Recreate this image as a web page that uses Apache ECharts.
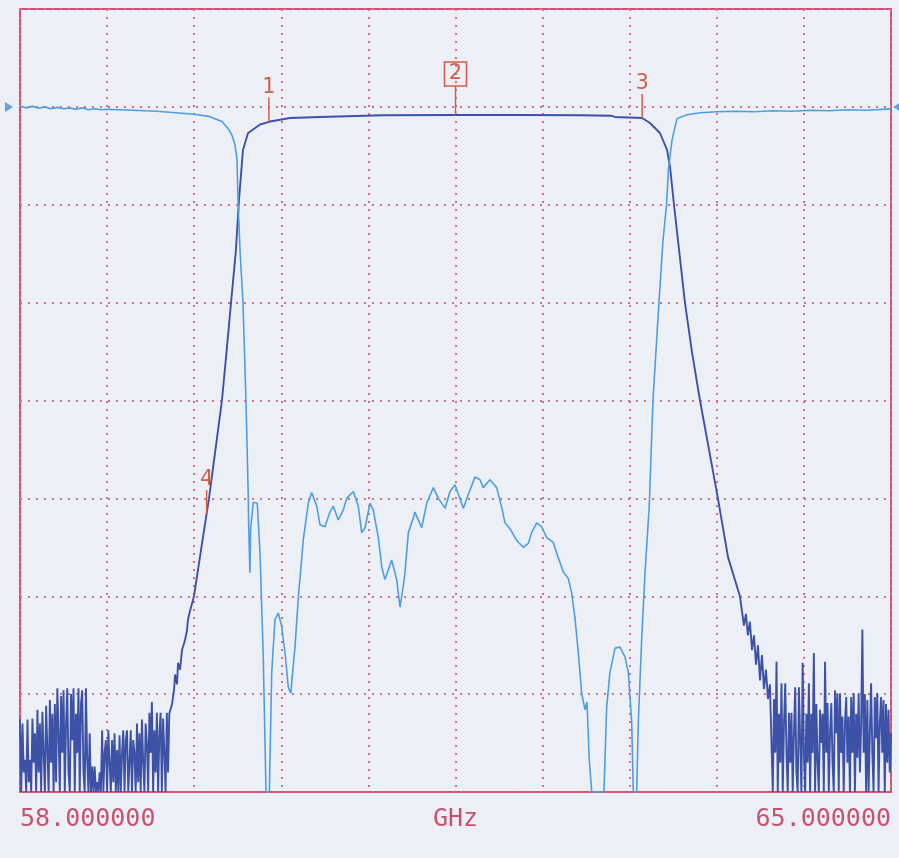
<!DOCTYPE html>
<html>
<head>
<meta charset="utf-8">
<script src="https://cdn.jsdelivr.net/npm/echarts@6/dist/echarts.min.js"></script>
<style>
html,body{margin:0;padding:0;background:#edeff7;}
#chart{width:899px;height:858px;}
</style>
</head>
<body>
<div id="chart"></div>
<script>
// ---- axis ----
const freqMin = 58.0, freqMax = 65.0, freqStep = 0.7;
const dbMin = -70, dbMax = 10, dbStep = 10;
const axisUnit = 'GHz';

// ---- S21 (dark trace): left noise floor, sweep 58.00 GHz step 0.01 GHz ----
const s21NoiseLeftStart = 58.00, s21NoiseStep = 0.01;
const s21NoiseLeft = [
 -62.6, -70, -63, -68, -66.7, -70, -62.6, -69, -66.7, -70,
 -62.5, -67, -64, -70, -61.6, -68, -63, -70, -61.8, -66,
 -70, -61.2, -65.7, -70, -60.6, -67, -62, -70, -61, -69,
 -59.4, -64, -70, -60.2, -66, -59.6, -70, -63, -59.4, -68,
 -70, -60, -64.7, -59.4, -70, -62, -66, -59.4, -70, -61,
 -59.6, -68, -70, -59.4, -66.7, -70, -64, -70, -67.4, -70,
 -67.4, -70, -69, -70, -68, -70, -63.7, -70, -66, -64.7,
 -70, -63.7, -67, -70, -64.7, -69, -64, -70, -65.7, -70,
 -64.2, -70, -66, -63.7, -70, -64.7, -63.7, -70, -67, -63.7,
 -70, -64.7, -66, -70, -63, -69, -64, -70, -62.6, -67,
 -70, -63, -65, -70, -61.9, -66, -60.8, -70, -63.7, -68,
 -61.9, -70, -64, -61.9, -70, -62.5, -66, -70, -61.9, -68,
 -62
];
// ---- S21 skirts and passband ----
const s21Freq = [
 59.222, 59.238, 59.246, 59.262, 59.270, 59.286, 59.302, 59.326, 59.342, 59.350,
 59.366, 59.390, 59.398, 59.458, 59.519, 59.571, 59.623, 59.660, 59.696, 59.733,
 59.760, 59.792, 59.832, 59.929, 60.009, 60.170, 60.410, 60.917, 61.500, 62.000,
 62.500, 62.750, 62.780, 63.000, 63.063, 63.143, 63.200, 63.224, 63.256, 63.300,
 63.344, 63.400, 63.465, 63.537, 63.609, 63.690, 63.786, 63.802, 63.818, 63.834,
 63.850, 63.866, 63.883, 63.899, 63.915, 63.931, 63.947, 63.963, 63.979, 63.995,
 64.011, 64.027
];
const s21Val = [
 -61, -59.6, -58, -59, -56.8, -57.5, -55.5, -54.5, -53.5, -52.4,
 -51.5, -50.4, -50, -45, -40, -35, -30, -25, -20, -15,
 -9.5, -4.4, -2.7, -1.8, -1.5, -1.14, -1.03, -0.85, -0.83, -0.83,
 -0.85, -0.9, -1.03, -1.14, -1.65, -2.67, -4.4, -6.1, -10, -15,
 -20, -25, -30, -35, -40, -46, -50, -51.5, -53, -51.8,
 -54, -52.6, -55.5, -54, -57, -55, -58.6, -56, -59.5, -57.5,
 -60.5, -59
];
// ---- S21 right noise floor, sweep 64.05 GHz step 0.01 GHz ----
const s21NoiseRightStart = 64.05;
const s21NoiseRight = [
 -70, -60.5, -66, -56.7, -70, -62, -67, -58.9, -70, -63,
 -58.9, -66, -70, -61.9, -67, -61.9, -70, -64, -59.3, -68,
 -70, -59.3, -64.7, -70, -56.8, -66, -70, -62, -67, -58.9,
 -70, -62, -66, -55.8, -70, -61, -67, -70, -61.6, -65,
 -62, -70, -56.7, -66, -60.9, -70, -64, -60.9, -67, -70,
 -59.6, -64, -60, -70, -59.9, -66, -62.3, -70, -63, -60.3,
 -67, -62.3, -70, -60.3, -66, -59.9, -70, -62, -66.5, -59.9,
 -68, -63, -53.4, -66, -60, -70, -60.6, -70, -64, -58.9,
 -66, -70, -60.3, -64.5, -59.9, -70, -63, -60.3, -66, -60.6,
 -70, -61, -67, -61.6, -68, -64
];

// ---- S11 (light trace) ----
const s11Freq = [
 58.00, 58.05, 58.10, 58.15, 58.20, 58.25, 58.30, 58.35, 58.40, 58.45,
 58.50, 58.55, 58.60, 58.65, 58.70, 58.80, 58.90, 59.00, 59.10, 59.20,
 59.30, 59.40, 59.527, 59.623, 59.672, 59.704, 59.728, 59.744, 59.752, 59.768,
 59.792, 59.816, 59.835, 59.837, 59.848, 59.854, 59.875, 59.907, 59.929, 59.955,
 59.977, 60.004, 60.023, 60.049, 60.076, 60.103, 60.130, 60.156, 60.176, 60.210,
 60.237, 60.277, 60.317, 60.344, 60.385, 60.411, 60.451, 60.491, 60.518, 60.558,
 60.598, 60.626, 60.679, 60.719, 60.746, 60.773, 60.813, 60.839, 60.880, 60.907,
 60.933, 60.987, 61.027, 61.054, 61.080, 61.094, 61.121, 61.161, 61.174, 61.228,
 61.269, 61.322, 61.362, 61.416, 61.456, 61.496, 61.563, 61.603, 61.657, 61.697,
 61.723, 61.777, 61.831, 61.871, 61.898, 61.938, 61.992, 62.045, 62.085, 62.112,
 62.153, 62.193, 62.233, 62.286, 62.313, 62.366, 62.407, 62.434, 62.460, 62.487,
 62.514, 62.541, 62.557, 62.565, 62.575, 62.595, 62.693, 62.715, 62.741, 62.782,
 62.822, 62.862, 62.889, 62.916, 62.929, 62.956, 62.969, 62.996, 63.023, 63.057,
 63.087, 63.135, 63.168, 63.196, 63.212, 63.240, 63.280, 63.360, 63.465, 63.600,
 63.75, 63.90, 64.05, 64.20, 64.35, 64.50, 64.65, 64.80, 65.00
];
const s11Val = [
 0.1, -0.1, 0.05, -0.15, 0, -0.2, -0.05, -0.2, -0.1, -0.25,
 -0.1, -0.3, -0.2, -0.3, -0.25, -0.3, -0.35, -0.4, -0.45, -0.55,
 -0.65, -0.75, -1.0, -1.5, -2.2, -2.9, -3.9, -5.4, -9.5, -14.6,
 -20, -30, -40, -42.3, -47.6, -43, -40.4, -40.5, -45.6, -56.2,
 -70, -70, -57.8, -52.4, -51.7, -53.1, -55.8, -59.3, -59.9, -55.2,
 -50.1, -44.2, -40.5, -39.4, -40.8, -42.7, -42.9, -41.4, -40.8, -42.2,
 -41.2, -40, -39.3, -40.8, -43.5, -43, -40.5, -41.2, -44, -47,
 -48.3, -46.3, -48.3, -51.1, -49, -47.6, -43.5, -42, -41.4, -43,
 -40.5, -38.9, -40, -41, -39.3, -38.6, -41, -39.6, -37.8, -38.1,
 -38.9, -38.1, -38.9, -40.9, -42.5, -43.1, -44.3, -45, -44.6, -43.5,
 -42.5, -42.9, -44, -44.5, -45.6, -47.5, -48.2, -49.7, -52.2, -55.8,
 -59.9, -61.6, -60.8, -63.5, -66.7, -70, -70, -61.3, -57.8, -55.3,
 -55.2, -56.2, -57.8, -62.9, -70, -70, -62.9, -54.5, -47.6, -40.8,
 -30, -20, -13.6, -10, -6.3, -3.4, -1.2, -0.8, -0.6, -0.5,
 -0.45, -0.5, -0.4, -0.45, -0.35, -0.4, -0.3, -0.35, -0.2
];

// ---- markers ----
const markerFreq = [60.0, 61.5, 63.0, 59.5];
const markerVal = [-1.5, -0.83, -1.14, -41.6];
const markerLabel = ['1', '2', '3', '4'];
const markerBoxed = [false, true, false, false];

// ---- reference level indicator ----
const refLevel = 0;

// build series data
const s21Data = [];
s21NoiseLeft.forEach((v, i) => s21Data.push([+(s21NoiseLeftStart + i * s21NoiseStep).toFixed(3), v]));
s21Freq.forEach((f, i) => s21Data.push([f, s21Val[i]]));
s21NoiseRight.forEach((v, i) => s21Data.push([+(s21NoiseRightStart + i * s21NoiseStep).toFixed(3), v]));
const s11Data = s11Freq.map((f, i) => [f, s11Val[i]]);
const markerData = markerFreq.map((f, i) => [f, markerVal[i], i]);

const pink = '#d4506e';
const gridDot = '#d0708c';
const textPink = '#c65470';
const markerColor = '#d25f4a';

const chart = echarts.init(document.getElementById('chart'));
chart.setOption({
  backgroundColor: '#edeff7',
  animation: false,
  grid: { left: 20, right: 8, top: 9, bottom: 66, show: true, borderColor: pink, borderWidth: 2,
          backgroundColor: 'transparent', containLabel: false, outerBoundsMode: 'none' },
  xAxis: {
    type: 'value', min: freqMin, max: freqMax, interval: freqStep,
    axisLine: { show: false }, axisTick: { show: false },
    splitLine: { show: true, lineStyle: { color: gridDot, width: 2, type: [2, 6] } },
    axisLabel: {
      show: true, margin: 15, color: textPink, fontFamily: 'DejaVu Sans Mono', fontSize: 25,
      showMinLabel: true, showMaxLabel: true, alignMinLabel: 'left', alignMaxLabel: 'right',
      formatter: v => (Math.abs(v - freqMin) < 1e-6 || Math.abs(v - freqMax) < 1e-6) ? v.toFixed(6) : ''
    },
    name: axisUnit, nameLocation: 'middle', nameGap: 15, nameMoveOverlap: false,
    nameTextStyle: { color: textPink, fontFamily: 'DejaVu Sans Mono', fontSize: 25, verticalAlign: 'top' }
  },
  yAxis: {
    type: 'value', min: dbMin, max: dbMax, interval: dbStep,
    axisLine: { show: false }, axisTick: { show: false }, axisLabel: { show: false },
    splitLine: { show: true, lineStyle: { color: gridDot, width: 2, type: [2, 6] } }
  },
  series: [
    {
      type: 'line', name: 'S21', data: s21Data, showSymbol: false, symbol: 'none',
      lineStyle: { color: '#3d52a6', width: 1.9 }, z: 3
    },
    {
      type: 'line', name: 'S11', data: s11Data, showSymbol: false, symbol: 'none',
      lineStyle: { color: '#4d9ee0', width: 1.6 }, z: 4
    },
    {
      type: 'scatter', name: 'ref', clip: false, silent: true, z: 5,
      data: [
        { value: [freqMin, refLevel], symbolRotate: -90, symbolOffset: [-11, 0] },
        { value: [freqMax, refLevel], symbolRotate: 90, symbolOffset: [6, 0] }
      ],
      symbol: 'triangle', symbolSize: [10, 8],
      itemStyle: { color: '#3a8fd8' }
    },
    {
      type: 'custom', name: 'markers', clip: false, silent: true, z: 10,
      data: markerData,
      renderItem: (params, api) => {
        const idx = api.value(2);
        const p = api.coord([api.value(0), api.value(1)]);
        const boxed = markerBoxed[idx];
        const len = boxed ? 29 : 24;
        const top = p[1] - len;
        const children = [
          { type: 'line', shape: { x1: p[0], y1: p[1], x2: p[0], y2: top }, style: { stroke: markerColor, lineWidth: 1.5 } },
          { type: 'text', x: p[0], y: top - (boxed ? 2 : 0),
            style: { text: markerLabel[idx], fill: markerColor, font: '21px "DejaVu Sans"', align: 'center', verticalAlign: 'bottom' } }
        ];
        if (boxed) {
          children.push({ type: 'rect', shape: { x: p[0] - 11, y: top - 24, width: 22, height: 24 },
            style: { fill: 'none', stroke: markerColor, lineWidth: 1.6 } });
        }
        return { type: 'group', children };
      }
    }
  ]
});
</script>
</body>
</html>
